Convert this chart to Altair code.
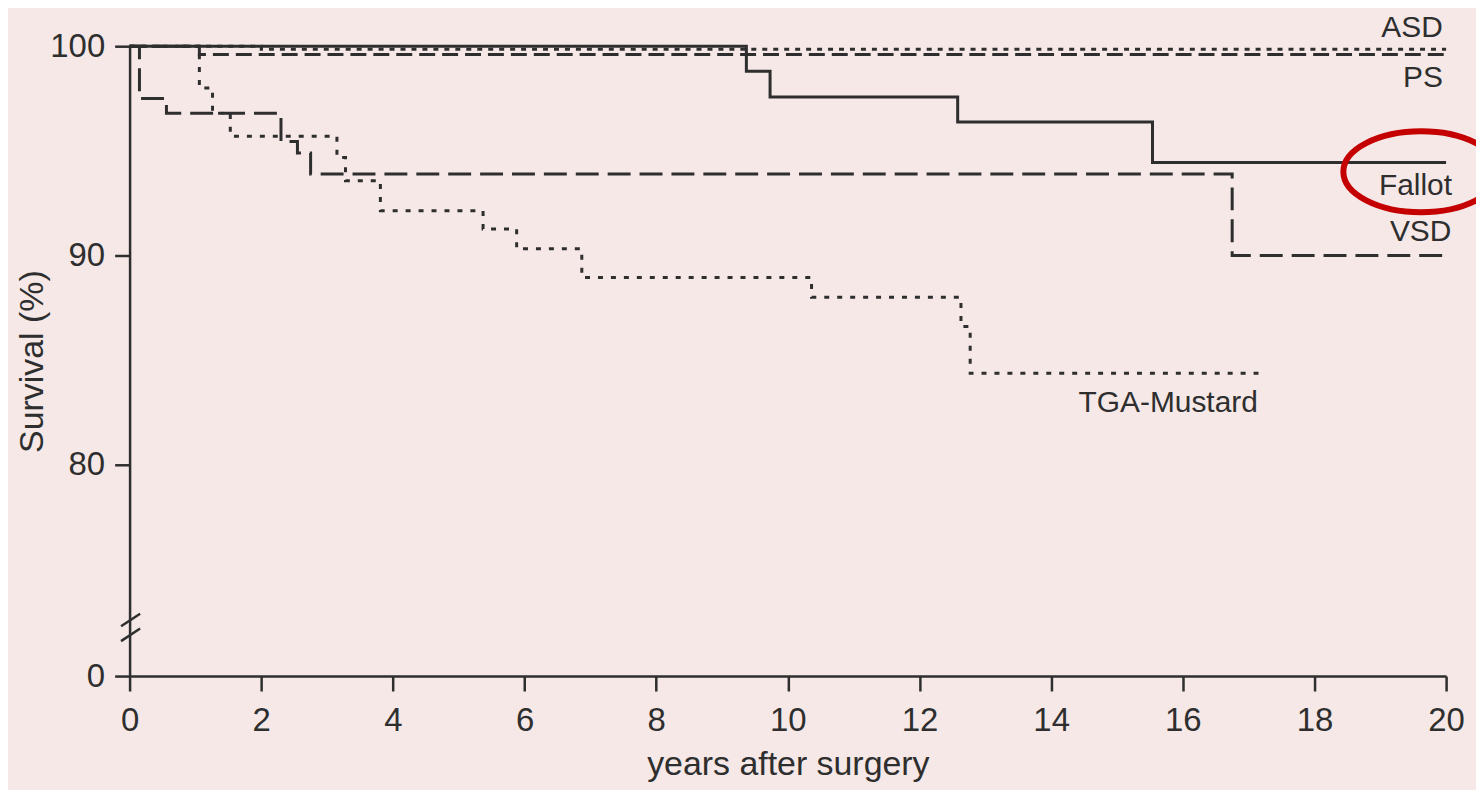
import altair as alt
import pandas as pd

# ---- data (years after surgery, survival %) ----
years_fallot = [0, 9.37, 9.73, 12.58, 15.54, 20.0]
surv_fallot = [100, 98.8, 97.57, 96.38, 94.44, 94.44]

years_asd = [0, 2.0, 20.0]
surv_asd = [100, 99.85, 99.85]

years_ps = [0, 1.06, 20.0]
surv_ps = [100, 99.6, 99.6]

years_vsd = [0, 0.15, 0.56, 2.30, 2.55, 2.75, 16.75, 20.0]
surv_vsd = [100, 97.5, 96.8, 95.45, 94.9, 93.89, 90.0, 90.0]

years_tga = [0, 1.06, 1.26, 1.53, 3.15, 3.28, 3.81, 5.37, 5.88, 6.87,
             10.36, 12.63, 12.77, 17.15]
surv_tga = [100, 98.0, 96.8, 95.7, 94.68, 93.57, 92.14, 91.27, 90.32,
            88.95, 88.0, 86.6, 84.37, 84.37]

series_names = ["Fallot", "ASD", "PS", "VSD", "TGA-Mustard"]

label_text = ["ASD", "PS", "Fallot", "VSD", "TGA-Mustard"]
label_x = [19.95, 19.95, 20.09, 20.08, 17.14]
label_y = [100.86, 98.48, 93.33, 91.1, 82.95]

x_ticks = [0, 2, 4, 6, 8, 10, 12, 14, 16, 18, 20]
y_ticks = [69.9, 80, 90, 100]          # bottom tick is the broken-axis "0"

highlight_x = [19.62]
highlight_y = [94.0]

break_x1 = [-0.13, -0.13]
break_x2 = [0.16, 0.16]
break_y1 = [72.28, 71.57]
break_y2 = [72.88, 72.17]

# ---- tables ----
rows = []
for name, xs, ys in [("Fallot", years_fallot, surv_fallot),
                     ("ASD", years_asd, surv_asd),
                     ("PS", years_ps, surv_ps),
                     ("VSD", years_vsd, surv_vsd),
                     ("TGA-Mustard", years_tga, surv_tga)]:
    for xv, yv in zip(xs, ys):
        rows.append({"series": name, "years": xv, "survival": yv})
curves = pd.DataFrame(rows)
labels = pd.DataFrame({"text": label_text, "years": label_x, "survival": label_y})
hl = pd.DataFrame({"years": highlight_x, "survival": highlight_y})
brk = pd.DataFrame({"x1": break_x1, "x2": break_x2, "y1": break_y1, "y2": break_y2})

INK = "#2e2e2e"
FONT = "Liberation Sans"

xscale = alt.Scale(domain=[0, 20], nice=False, zero=False)
yscale = alt.Scale(domain=[69.9, 100], nice=False, zero=False)

xaxis = alt.Axis(values=x_ticks, title="years after surgery", grid=False, format="d",
                 tickSize=15, tickWidth=2.5, tickColor=INK,
                 domainWidth=2.5, domainColor=INK,
                 labelFontSize=33, labelFont=FONT, labelColor=INK,
                 labelPadding=14, labelFlush=False,
                 titleFontSize=34, titleFont=FONT, titleColor=INK,
                 titleFontWeight="normal", titlePadding=10)
yaxis = alt.Axis(values=y_ticks, title="Survival (%)", grid=False,
                 labelExpr="datum.value < 70 ? '0' : datum.label",
                 tickSize=15, tickWidth=2.5, tickColor=INK,
                 domainWidth=2.5, domainColor=INK,
                 labelFontSize=33, labelFont=FONT, labelColor=INK,
                 labelPadding=10,
                 titleFontSize=34, titleFont=FONT, titleColor=INK,
                 titleFontWeight="normal", titlePadding=0)

lines = alt.Chart(curves).mark_line(interpolate="step-after", color=INK).encode(
    x=alt.X("years:Q", scale=xscale, axis=xaxis),
    y=alt.Y("survival:Q", scale=yscale, axis=yaxis),
    strokeDash=alt.StrokeDash("series:N", legend=None,
                              scale=alt.Scale(domain=series_names,
                                              range=[[1, 0], [5, 6], [16, 7], [23, 9], [5, 8]])),
    strokeWidth=alt.StrokeWidth("series:N", legend=None,
                                scale=alt.Scale(domain=series_names,
                                                range=[3, 3, 3.5, 3.5, 5])),
)

texts = alt.Chart(labels).mark_text(align="right", baseline="middle",
                                    font=FONT, fontSize=30, color=INK).encode(
    x=alt.X("years:Q", scale=xscale),
    y=alt.Y("survival:Q", scale=yscale),
    text="text:N",
)

ellipse_path = ("M -1 0 C -1 -0.287 -0.552 -0.52 0 -0.52 C 0.552 -0.52 1 -0.287 1 0 "
                "C 1 0.287 0.552 0.52 0 0.52 C -0.552 0.52 -1 0.287 -1 0 Z")
ring = alt.Chart(hl).mark_point(shape=ellipse_path, size=24336, filled=False,
                                 stroke="#c40000", strokeWidth=6, opacity=1).encode(
    x=alt.X("years:Q", scale=xscale),
    y=alt.Y("survival:Q", scale=yscale),
)

breaks = alt.Chart(brk).mark_rule(color=INK, strokeWidth=2.5).encode(
    x=alt.X("x1:Q", scale=xscale),
    x2="x2:Q",
    y=alt.Y("y1:Q", scale=yscale),
    y2="y2:Q",
)

chart = alt.layer(lines, breaks, texts, ring).properties(
    width=1321, height=632,
    autosize=alt.AutoSizeParams(type="none"),
    padding={"left": 122, "top": 37, "right": 30, "bottom": 113},
    background="#f5e8e7",
).configure_view(stroke=None)

chart.save("out.html", embed_options={"renderer": "svg", "actions": False})
